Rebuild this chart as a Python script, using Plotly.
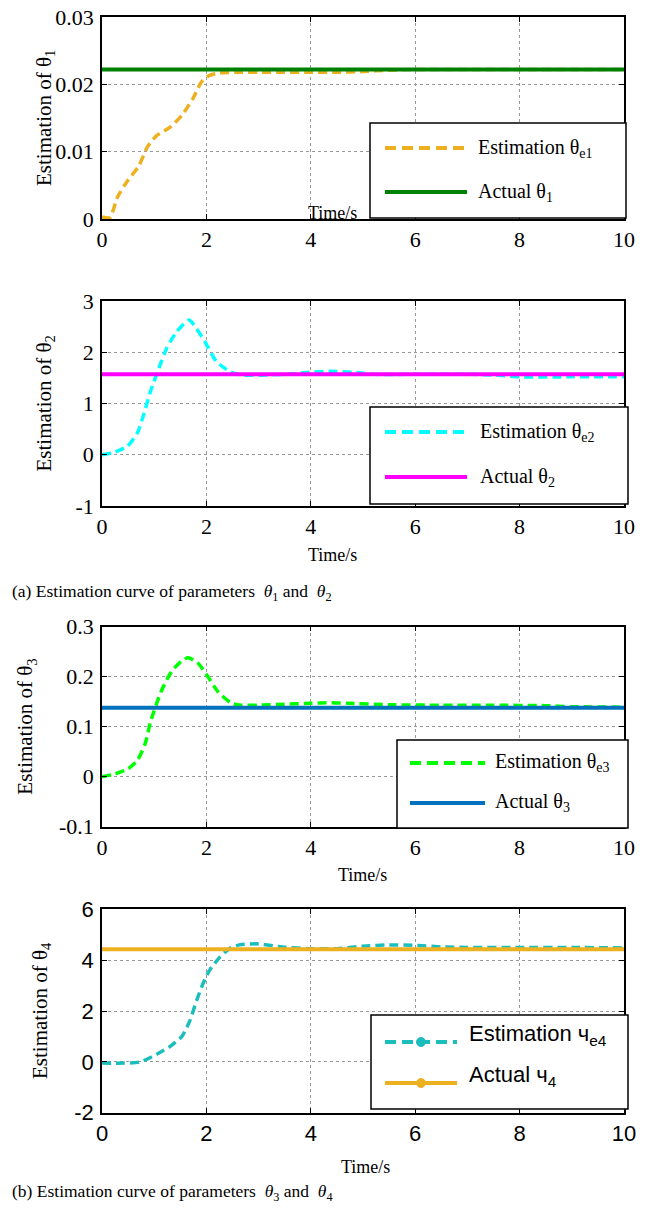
import plotly.graph_objects as go

W, H = 648, 1212

# ---------------- data ----------------
t_span = [0, 10]

t_est1 = [0, 0.15, 0.3, 0.5, 0.7, 0.87, 1.05, 1.3, 1.53, 1.75, 1.9, 2.05, 2.25, 2.6, 3.0,
          3.5, 4.0, 4.5, 5.0, 5.5, 6.0, 7.0, 8.0, 9.0, 10.0]
est1 = [0.0003, 0.0002, 0.0033, 0.0058, 0.0078, 0.0107, 0.0124, 0.0136, 0.0154, 0.018, 0.0203,
        0.0213, 0.0217, 0.0218, 0.0218, 0.0218, 0.0218, 0.0218, 0.0219, 0.0221, 0.0222,
        0.0222, 0.0222, 0.0222, 0.0222]
actual1 = [0.0222, 0.0222]

t_est2 = [0, 0.23, 0.49, 0.68, 0.8, 0.93, 1.09, 1.24, 1.43, 1.67, 1.81, 1.97, 2.19, 2.44,
          2.63, 3.0, 3.5, 4.0, 4.4, 4.8, 5.2, 6.0, 7.0, 7.6, 8.0, 9.0, 10.0]
est2 = [0, 0.045, 0.17, 0.43, 0.79, 1.24, 1.69, 2.08, 2.4, 2.63, 2.46, 2.21, 1.82, 1.63,
        1.56, 1.55, 1.57, 1.61, 1.63, 1.61, 1.57, 1.57, 1.57, 1.55, 1.52, 1.52, 1.52]
actual2 = [1.571, 1.571]

t_est3 = [0, 0.23, 0.49, 0.68, 0.83, 0.93, 1.13, 1.33, 1.52, 1.65, 1.84, 2.03, 2.22, 2.48,
          2.67, 3.0, 3.5, 4.0, 4.3, 4.7, 5.5, 6.5, 7.5, 8.5, 9.0, 10.0]
est3 = [0, 0.005, 0.015, 0.033, 0.067, 0.11, 0.17, 0.21, 0.231, 0.238, 0.227, 0.2, 0.17,
        0.147, 0.143, 0.143, 0.145, 0.147, 0.148, 0.147, 0.144, 0.143, 0.143, 0.142, 0.14, 0.139]
actual3 = [0.138, 0.138]

t_est4 = [0, 0.42, 0.74, 1.05, 1.3, 1.53, 1.68, 1.81, 1.94, 2.06, 2.25, 2.44, 2.63, 3.0,
          3.45, 4.0, 4.5, 5.0, 5.5, 6.0, 6.5, 7.0, 8.0, 9.0, 10.0]
est4 = [-0.05, -0.05, 0.0, 0.3, 0.6, 1.0, 1.6, 2.4, 3.1, 3.6, 4.1, 4.45, 4.6, 4.64, 4.52,
        4.45, 4.45, 4.55, 4.6, 4.58, 4.52, 4.5, 4.5, 4.5, 4.48]
actual4 = [4.43, 4.43]

x_ticks = [0, 2, 4, 6, 8, 10]
x_tick_text = ["0", "2", "4", "6", "8", "10"]
y1_ticks = [0, 0.01, 0.02, 0.03]
y1_tick_text = ["0", "0.01", "0.02", "0.03"]
y2_ticks = [-1, 0, 1, 2, 3]
y2_tick_text = ["-1", "0", "1", "2", "3"]
y3_ticks = [-0.1, 0, 0.1, 0.2, 0.3]
y3_tick_text = ["-0.1", "0", "0.1", "0.2", "0.3"]
y4_ticks = [-2, 0, 2, 4, 6]
y4_tick_text = ["-2", "0", "2", "4", "6"]

est_labels = ["Estimation θ<sub>e1</sub>", "Estimation θ<sub>e2</sub>",
              "Estimation θ<sub>e3</sub>", "Estimation ч<sub>e4</sub>"]
act_labels = ["Actual θ<sub>1</sub>", "Actual θ<sub>2</sub>",
              "Actual θ<sub>3</sub>", "Actual ч<sub>4</sub>"]
y_titles = ["Estimation of θ<sub>1</sub>", "Estimation of θ<sub>2</sub>",
            "Estimation of θ<sub>3</sub>", "Estimation of θ<sub>4</sub>"]
captions = ["(a) Estimation curve of parameters\u00a0\u00a0<i>θ</i><sub>1</sub> and\u00a0\u00a0<i>θ</i><sub>2</sub>",
            "(b) Estimation curve of parameters\u00a0\u00a0<i>θ</i><sub>3</sub> and\u00a0\u00a0<i>θ</i><sub>4</sub>"]

# ---------------- styling ----------------
SERIF = "Liberation Serif"
SANS = "Liberation Sans"
est_colors = ["#EDB120", "#00FFFF", "#00FF00", "#1BBDBD"]
act_colors = ["#008000", "#FF00FF", "#0072BD", "#EDB120"]
DASH = "9px,5px"


def px(x):
    return x / W


def py(y):
    return 1 - y / H


x_dom = [px(102), px(624)]
y_px = [(17, 219), (301, 506), (626.7, 826.7), (909.3, 1112.7)]
series = [(t_est1, est1, actual1), (t_est2, est2, actual2),
          (t_est3, est3, actual3), (t_est4, est4, actual4)]
yticks = [(y1_ticks, y1_tick_text, [0, 0.03]), (y2_ticks, y2_tick_text, [-1, 3]),
          (y3_ticks, y3_tick_text, [-0.1, 0.3]), (y4_ticks, y4_tick_text, [-2, 6])]

fig = go.Figure()
layout = dict(template="none", width=W, height=H, autosize=False,
              margin=dict(l=0, r=0, t=0, b=0, pad=0),
              paper_bgcolor="white", plot_bgcolor="white", showlegend=False,
              font=dict(family=SERIF, color="black"))

for i in range(4):
    sfx = "" if i == 0 else str(i + 1)
    t, e, a = series[i]
    fig.add_trace(go.Scatter(x=t, y=e, mode="lines", line=dict(color=est_colors[i], width=3.5, dash=DASH,
                                                                   shape="spline", smoothing=0.6),
                             xaxis="x" + sfx, yaxis="y" + sfx))
    fig.add_trace(go.Scatter(x=t_span, y=a, mode="lines", line=dict(color=act_colors[i], width=4),
                             xaxis="x" + sfx, yaxis="y" + sfx))
    tick_font = dict(family=SANS if i == 3 else SERIF, size=22 if i == 3 else 22, color="black")
    common = dict(showline=True, linecolor="black", linewidth=1.5, mirror="ticks",
                  ticks="inside", ticklen=5, tickcolor="black", tickwidth=1,
                  showgrid=True, gridcolor="#999999", gridwidth=1, griddash="dot",
                  zeroline=False, tickfont=tick_font, automargin=False)
    top, bot = y_px[i]
    layout["xaxis" + sfx] = dict(domain=x_dom, range=[0, 10], tickvals=x_ticks, ticktext=x_tick_text,
                                 anchor="y" + sfx, **common)
    tv, tt, rg = yticks[i]
    layout["yaxis" + sfx] = dict(domain=[py(bot), py(top)], range=rg, tickvals=tv, ticktext=tt,
                                 anchor="x" + sfx, ticklabelstandoff=2, **common)

fig.update_layout(**layout)

# ---------------- annotations & manual legends ----------------
ann = []
shapes = []

ytitle_x = [45, 45, 26, 41]
for i in range(4):
    top, bot = y_px[i]
    ann.append(dict(text=y_titles[i], x=px(ytitle_x[i]), y=py((top + bot) / 2), xref="paper", yref="paper",
                    xanchor="center", yanchor="middle", textangle=-90, showarrow=False,
                    font=dict(family=SERIF, size=21, color="black")))

time_pos = [(332, 213), (333, 555), (362, 875), (366, 1167)]
for (x, y) in time_pos:
    ann.append(dict(text="Time/s", x=px(x), y=py(y), xref="paper", yref="paper",
                    xanchor="center", yanchor="middle", showarrow=False,
                    font=dict(family=SERIF, size=18, color="black")))

cap_y = [592, 1192]
for c, y in zip(captions, cap_y):
    ann.append(dict(text=c, x=px(10), y=py(y), xref="paper", yref="paper",
                    xanchor="left", yanchor="middle", showarrow=False,
                    font=dict(family=SERIF, size=17.5, color="black")))

# legend boxes: (x0, y0, x1, y1), sample x0, x1, text x, row ys, text offset
legends = [
    ((370, 123, 626, 218), 385, 467, 476, (148, 192), 0),
    ((370, 407, 628, 504), 385, 467, 478, (432, 477), 0),
    ((397, 740, 628, 828), 410, 485, 493, (763, 803), -1),
    ((371, 1015, 628, 1109), 385, 457, 467, (1042, 1083), -7),
]
for i, (box, sx0, sx1, tx, rows, dy) in enumerate(legends):
    x0, y0, x1, y1 = box
    shapes.append(dict(type="rect", xref="paper", yref="paper", x0=px(x0), x1=px(x1), y0=py(y1), y1=py(y0),
                       line=dict(color="black", width=1.5), fillcolor="white", layer="above"))
    shapes.append(dict(type="line", xref="paper", yref="paper", x0=px(sx0), x1=px(sx1),
                       y0=py(rows[0]), y1=py(rows[0]), layer="above",
                       line=dict(color=est_colors[i], width=4, dash="11px,6px")))
    shapes.append(dict(type="line", xref="paper", yref="paper", x0=px(sx0), x1=px(sx1),
                       y0=py(rows[1]), y1=py(rows[1]), layer="above",
                       line=dict(color=act_colors[i], width=4)))
    if i == 3:
        mx = (sx0 + sx1) / 2
        for r, col in zip(rows, [est_colors[i], act_colors[i]]):
            shapes.append(dict(type="circle", xref="paper", yref="paper", x0=px(mx - 4.5), x1=px(mx + 4.5),
                               y0=py(r + 4.5), y1=py(r - 4.5), fillcolor=col, line=dict(color=col, width=1),
                               layer="above"))
    lfont = dict(family=SANS, size=22, color="black") if i == 3 else dict(family=SERIF, size=20, color="black")
    for lab, r in zip([est_labels[i], act_labels[i]], rows):
        ann.append(dict(text=lab, x=px(tx), y=py(r + dy), xref="paper", yref="paper",
                        xanchor="left", yanchor="middle", showarrow=False, font=lfont))

fig.update_layout(annotations=ann, shapes=shapes)
fig.write_html("out.html")
